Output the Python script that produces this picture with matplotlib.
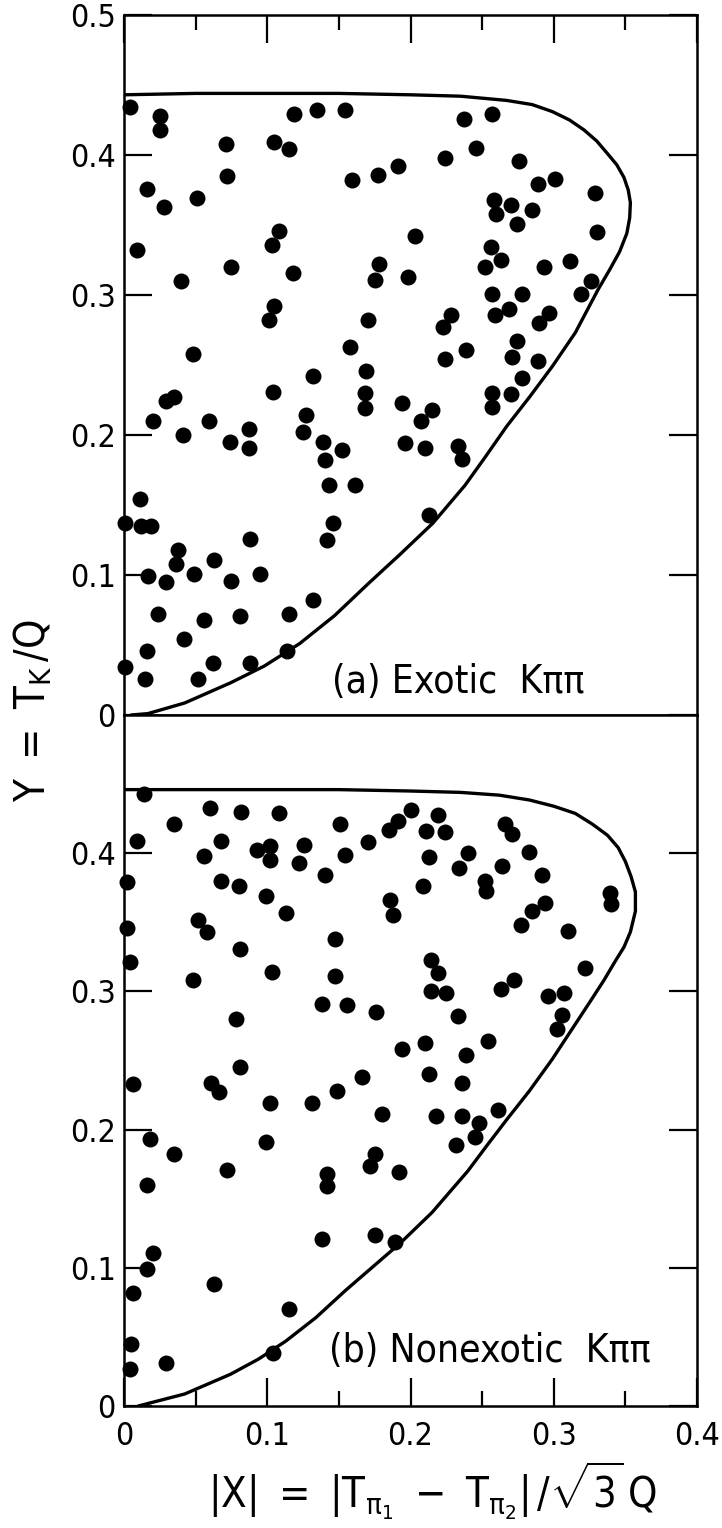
import matplotlib
matplotlib.use("Agg")
import matplotlib.pyplot as plt
from matplotlib import font_manager
from matplotlib.ticker import MultipleLocator

# pick a narrow sans if there is one, the original lettering is condensed
names = {f.name for f in font_manager.fontManager.ttflist}
fam = "Liberation Sans Narrow" if "Liberation Sans Narrow" in names else "DejaVu Sans"
plt.rcParams["font.family"] = [fam, "DejaVu Sans"]
plt.rcParams["font.stretch"] = "condensed"
plt.rcParams["mathtext.fontset"] = "custom"
plt.rcParams["mathtext.rm"] = fam
plt.rcParams["mathtext.it"] = fam
plt.rcParams["mathtext.default"] = "regular"

# (a) exotic K pi pi events
xa = [0.004, 0.025, 0.025, 0.119, 0.135, 0.154, 0.237, 0.257, 0.071, 0.105, 0.115, 0.246,
      0.224, 0.276, 0.191, 0.177, 0.159, 0.072, 0.301, 0.289, 0.329, 0.016, 0.051, 0.028,
      0.258, 0.270, 0.285, 0.260, 0.274, 0.330, 0.203, 0.108, 0.103, 0.009, 0.256, 0.263,
      0.311, 0.178,
      0.252, 0.293, 0.075, 0.118, 0.175, 0.198, 0.040, 0.326, 0.319, 0.257, 0.278, 0.269,
      0.259, 0.297, 0.290, 0.228, 0.223, 0.239, 0.224, 0.105, 0.101, 0.170, 0.274, 0.271,
      0.289, 0.278, 0.270, 0.257, 0.257, 0.158, 0.169, 0.168, 0.168, 0.048, 0.132, 0.104,
      0.035, 0.029, 0.020, 0.059, 0.041, 0.074, 0.087, 0.087, 0.127, 0.125, 0.139, 0.152,
      0.140, 0.143, 0.161, 0.194, 0.215, 0.207, 0.196, 0.210, 0.233, 0.236, 0.011,
      0.001, 0.012, 0.019, 0.213, 0.146, 0.142, 0.088, 0.038, 0.036, 0.063, 0.017, 0.029,
      0.049, 0.075, 0.095, 0.132, 0.024, 0.056, 0.081, 0.115, 0.042, 0.016, 0.114, 0.001,
      0.062, 0.088, 0.015, 0.052]
ya = [0.434, 0.428, 0.418, 0.429, 0.432, 0.432, 0.426, 0.429, 0.408, 0.409, 0.404, 0.405,
      0.398, 0.396, 0.392, 0.386, 0.382, 0.385, 0.383, 0.379, 0.373, 0.376, 0.369, 0.363,
      0.368, 0.364, 0.361, 0.358, 0.351, 0.345, 0.342, 0.346, 0.336, 0.332, 0.334, 0.325,
      0.324, 0.322,
      0.320, 0.320, 0.320, 0.316, 0.311, 0.313, 0.310, 0.310, 0.301, 0.301, 0.301, 0.290,
      0.286, 0.287, 0.280, 0.286, 0.277, 0.261, 0.254, 0.292, 0.282, 0.282, 0.267, 0.256,
      0.253, 0.241, 0.229, 0.230, 0.220, 0.263, 0.246, 0.230, 0.219, 0.258, 0.242, 0.231,
      0.227, 0.224, 0.210, 0.210, 0.200, 0.195, 0.204, 0.191, 0.214, 0.202, 0.195, 0.189,
      0.182, 0.164, 0.164, 0.223, 0.218, 0.210, 0.194, 0.191, 0.192, 0.183, 0.154,
      0.137, 0.135, 0.135, 0.143, 0.137, 0.125, 0.126, 0.118, 0.108, 0.111, 0.099, 0.095,
      0.101, 0.096, 0.101, 0.082, 0.072, 0.068, 0.071, 0.072, 0.054, 0.046, 0.046, 0.034,
      0.037, 0.037, 0.026, 0.026]

# (b) nonexotic K pi pi events
xb = [0.014, 0.060, 0.082, 0.108, 0.035, 0.151, 0.200, 0.191, 0.185, 0.219, 0.211, 0.224,
      0.266, 0.271, 0.009, 0.068, 0.126, 0.170, 0.056, 0.093, 0.102, 0.102, 0.122, 0.154,
      0.213, 0.240, 0.234, 0.264, 0.283, 0.140, 0.292, 0.002, 0.068, 0.080, 0.099, 0.209,
      0.252, 0.253, 0.339, 0.340, 0.113, 0.186, 0.188, 0.294, 0.285, 0.052, 0.058, 0.277,
      0.310, 0.002, 0.147, 0.081, 0.004, 0.214, 0.322, 0.048, 0.103, 0.147, 0.219, 0.272,
      0.263, 0.214, 0.225, 0.296, 0.307, 0.306, 0.302, 0.138, 0.156, 0.176, 0.233, 0.078,
      0.194, 0.210, 0.239, 0.254, 0.081, 0.006, 0.061, 0.066, 0.166, 0.149, 0.213, 0.236,
      0.102, 0.131, 0.180, 0.218, 0.236, 0.248, 0.261, 0.245, 0.232, 0.018, 0.099, 0.035,
      0.175, 0.172, 0.192, 0.072, 0.142, 0.142, 0.016,
      0.138, 0.175, 0.189, 0.020, 0.016, 0.063, 0.006, 0.115, 0.005, 0.104, 0.029, 0.004]
yb = [0.443, 0.433, 0.430, 0.429, 0.421, 0.421, 0.431, 0.423, 0.417, 0.428, 0.416, 0.415,
      0.421, 0.414, 0.409, 0.409, 0.406, 0.408, 0.398, 0.402, 0.405, 0.395, 0.393, 0.399,
      0.397, 0.400, 0.389, 0.391, 0.401, 0.384, 0.384, 0.379, 0.380, 0.376, 0.369, 0.376,
      0.380, 0.373, 0.371, 0.363, 0.357, 0.366, 0.355, 0.364, 0.358, 0.352, 0.343, 0.348,
      0.344, 0.346, 0.338, 0.331, 0.321, 0.323, 0.317, 0.308, 0.314, 0.311, 0.313, 0.308,
      0.302, 0.300, 0.299, 0.297, 0.299, 0.283, 0.273, 0.291, 0.290, 0.285, 0.282, 0.280,
      0.258, 0.263, 0.254, 0.264, 0.245, 0.233, 0.234, 0.227, 0.238, 0.228, 0.240, 0.234,
      0.219, 0.219, 0.211, 0.210, 0.210, 0.205, 0.214, 0.195, 0.189, 0.193, 0.191, 0.182,
      0.182, 0.174, 0.169, 0.171, 0.168, 0.159, 0.160,
      0.121, 0.124, 0.119, 0.111, 0.099, 0.088, 0.082, 0.070, 0.045, 0.038, 0.031, 0.027]

# Dalitz plot boundary
bound_a_x = [0.0, 0.05, 0.10, 0.15, 0.20, 0.235, 0.267, 0.285, 0.299, 0.311, 0.321, 0.330,
             0.3375, 0.344, 0.349, 0.352, 0.3535, 0.353, 0.351, 0.346, 0.339, 0.331, 0.315,
             0.299, 0.283, 0.267, 0.252, 0.238, 0.2156, 0.193, 0.1707, 0.147, 0.1226,
             0.098, 0.0744, 0.0424, 0.0167, 0.005]
bound_a_y = [0.443, 0.444, 0.444, 0.444, 0.443, 0.442, 0.439, 0.436, 0.431, 0.425, 0.418, 0.410,
             0.401, 0.393, 0.384, 0.375, 0.366, 0.355, 0.344, 0.331, 0.318, 0.304, 0.273,
             0.249, 0.227, 0.206, 0.184, 0.164, 0.137, 0.115, 0.094, 0.071, 0.051,
             0.035, 0.023, 0.0086, 0.001, 0.0]
bound_b_x = [0.0, 0.05, 0.10, 0.15, 0.20, 0.235, 0.262, 0.283, 0.300, 0.315, 0.327, 0.3375,
             0.345, 0.350, 0.354, 0.357, 0.357, 0.3535, 0.349, 0.343, 0.335, 0.325, 0.299,
             0.283, 0.267, 0.253, 0.240, 0.215, 0.193, 0.1546, 0.134, 0.113, 0.094,
             0.0744, 0.0424, 0.010]
bound_b_y = [0.446, 0.446, 0.446, 0.446, 0.445, 0.444, 0.442, 0.4385, 0.434, 0.4288, 0.421, 0.413,
             0.404, 0.394, 0.383, 0.372, 0.358, 0.343, 0.332, 0.322, 0.308, 0.292, 0.251,
             0.228, 0.207, 0.188, 0.170, 0.140, 0.118, 0.0836, 0.064, 0.047, 0.034,
             0.023, 0.0087, 0.0]

xticks = [0, 0.1, 0.2, 0.3, 0.4]
xtick_labels = ["0", "0.1", "0.2", "0.3", "0.4"]
yticks_a = [0, 0.1, 0.2, 0.3, 0.4, 0.5]
ytick_labels_a = ["0", "0.1", "0.2", "0.3", "0.4", "0.5"]
yticks_b = [0, 0.1, 0.2, 0.3, 0.4]
ytick_labels_b = ["0", "0.1", "0.2", "0.3", "0.4"]

W, H = 722, 1528
fig = plt.figure(figsize=(W / 100, H / 100), dpi=100)
ax_a = fig.add_axes([124 / W, 1 - 715 / H, 573 / W, 700 / H])
ax_b = fig.add_axes([124 / W, 1 - 1406 / H, 573 / W, 691 / H])

def style(ax):
    for sp in ax.spines.values():
        sp.set_linewidth(1.8)
    ax.set_xlim(0, 0.4)
    ax.set_ylim(0, 0.5)
    ax.tick_params(which="major", direction="in", length=20, width=1.6,
                   labelsize=23, pad=6)
    ax.tick_params(which="minor", direction="in", length=11, width=1.6)

for ax, xs, ys, bx, by in [(ax_a, xa, ya, bound_a_x, bound_a_y),
                           (ax_b, xb, yb, bound_b_x, bound_b_y)]:
    style(ax)
    ax.plot(bx, by, color="black", lw=2.4, solid_capstyle="round", solid_joinstyle="round")
    ax.plot(xs, ys, "o", color="black", markersize=11.5, markeredgewidth=0, clip_on=False)
    ax.xaxis.set_major_locator(MultipleLocator(0.1))
    ax.xaxis.set_minor_locator(MultipleLocator(0.05))

# top panel: ticks on the top edge only, labels on left
ax_a.tick_params(axis="x", which="both", bottom=False, top=True, labelbottom=False)
ax_a.set_yticks(yticks_a)
ax_a.set_yticklabels(ytick_labels_a)
ax_a.tick_params(axis="y", left=True, right=True)
ax_a.text(0.145, 0.010, "(a) Exotic  K\u03c0\u03c0", fontsize=28, ha="left", va="bottom")

# bottom panel
ax_b.tick_params(axis="x", which="both", bottom=True, top=False, pad=11)
ax_b.set_xticks(xticks)
ax_b.set_xticklabels(xtick_labels)
ax_b.set_yticks(yticks_b)
ax_b.set_yticklabels(ytick_labels_b)
ax_b.tick_params(axis="y", left=True, right=True)
ax_b.text(0.143, 0.026, "(b) Nonexotic  K\u03c0\u03c0", fontsize=28, ha="left", va="bottom")

fig.text(33 / W, 1 - 711 / H, r"$Y\ =\ T_K\,/Q$", rotation=90, fontsize=30,
         ha="center", va="center")
fig.text(432 / W, 1 - 1491 / H, r"$|X|\ =\ |T_{\pi_1}\ -\ T_{\pi_2}|\,/\sqrt{3}\,Q$",
         fontsize=30, ha="center", va="center")

fig.savefig("out.png", dpi=100)
